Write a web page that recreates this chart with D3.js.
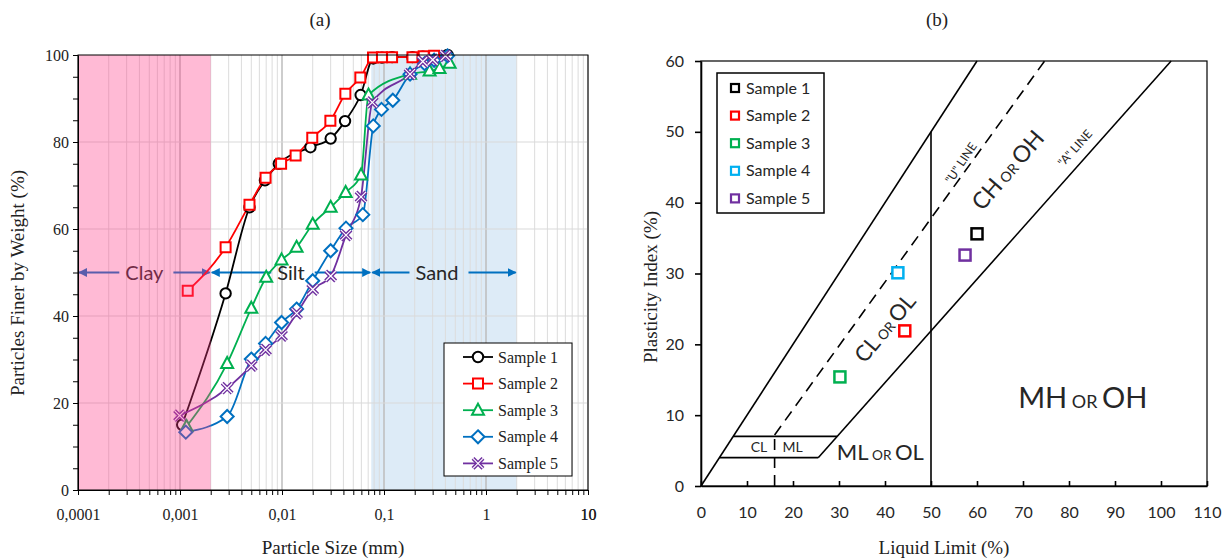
<!DOCTYPE html>
<meta charset="utf-8">
<style>
body { margin: 0; background: #fff; }
.serif { font-family: "Liberation Serif", "Times New Roman", serif; fill: #222; }
.sans { font-family: Lato, "Open Sans", sans-serif; fill: #262626; }
</style>
<svg id="chart" width="1226" height="558"></svg>
<script src="https://d3js.org/d3.v7.min.js"></script>
<script>

// ---------- data: (a) grain size distribution ----------
var sampleNames = ["Sample 1", "Sample 2", "Sample 3", "Sample 4", "Sample 5"];

// particle size (mm) and percent finer for each sample
var sizeS1 = [0.00105, 0.0028, 0.0048, 0.0068, 0.0093, 0.019, 0.030, 0.0415, 0.059, 0.0785, 0.0955, 0.12, 0.19, 0.24, 0.30, 0.42];
var pctS1  = [15, 45.2, 65, 71.2, 75, 78.8, 80.8, 84.8, 90.8, 99.2, 99.4, 99.5, 99.5, 99.6, 99.7, 100];

var sizeS2 = [0.00119, 0.0028, 0.0048, 0.0069, 0.0098, 0.0136, 0.0198, 0.0298, 0.0418, 0.0586, 0.078, 0.0955, 0.12, 0.19, 0.245, 0.31];
var pctS2  = [45.8, 55.8, 65.6, 71.8, 75, 76.9, 81, 84.9, 91.1, 94.8, 99.4, 99.5, 99.5, 99.5, 99.7, 99.8];

var sizeS3 = [0.00116, 0.0029, 0.005, 0.0070, 0.0099, 0.0139, 0.020, 0.030, 0.0421, 0.0595, 0.0705, 0.18, 0.28, 0.35, 0.44];
var pctS3  = [14.6, 29.1, 41.8, 48.9, 52.9, 55.8, 61.1, 65, 68.4, 72.4, 90.8, 95.6, 96.3, 96.9, 98.1];

var sizeS4 = [0.00114, 0.0029, 0.005, 0.0069, 0.0099, 0.0139, 0.020, 0.030, 0.0424, 0.062, 0.0785, 0.0945, 0.122, 0.18, 0.25, 0.31, 0.42];
var pctS4  = [13.3, 16.9, 30.1, 33.7, 38.5, 41.6, 48.1, 55, 60.2, 63.3, 83.7, 87.5, 89.6, 95.6, 98, 98.8, 99.8];

var sizeS5 = [0.00099, 0.0029, 0.005, 0.0069, 0.0099, 0.0139, 0.020, 0.030, 0.0424, 0.0595, 0.0768, 0.18, 0.24, 0.30, 0.40];
var pctS5  = [17.1, 23.4, 28.6, 32.2, 35.5, 40.6, 46.1, 49.2, 58.6, 67.4, 89.1, 95.6, 98.5, 98.9, 99.8];

// soil fraction limits (mm)
var zoneNames  = ["Clay", "Silt", "Sand"];
var zoneBounds = [[0.0001, 0.002], [0.002, 0.075], [0.075, 2]];
var zoneArrowLevel = 50;

var sizeTicks = [0.0001, 0.001, 0.01, 0.1, 1, 10];
var sizeTickLabels = ["0,0001", "0,001", "0,01", "0,1", "1", "10"];

// ---------- data: (b) plasticity chart ----------
var liquidLimit     = [60, 44.3, 30.2, 42.8, 57.4];
var plasticityIndex = [35.6, 21.9, 15.4, 30.1, 32.6];

// chart lines in (LL, PI)
var upperLine = [[0, 0], [60, 60]];
var aLine     = [[25.48, 4], [102.2, 60]];          // PI = 0.73 (LL - 20)
var uLine     = [[16, 7.2], [74.7, 60]];            // PI = 0.9 (LL - 8)
var uStem     = [[16, 0], [16, 7.2]];
var llFifty   = [[50, 0], [50, 50]];
var clmlLow   = [[4, 4], [25.48, 4]];
var clmlHigh  = [[7, 7], [29.6, 7]];

// ---------- styles ----------
var gsColors  = ["#000000", "#FF0000", "#00B050", "#0070C0", "#7030A0"];
var gsMarkers = ["circle", "square", "triangle", "diamond", "x"];
var plColors  = ["#000000", "#FF0000", "#00B050", "#00B0F0", "#7030A0"];

var svg = d3.select("#chart");

// =============== (a) ===============
var xA = d3.scaleLog().domain([0.0001, 10]).range([78, 588]);
var yA = d3.scaleLinear().domain([0, 100]).range([490, 55]);

var gA = svg.append("g");

// sand background
gA.append("rect")
  .attr("x", xA(zoneBounds[2][0])).attr("y", yA(100))
  .attr("width", xA(zoneBounds[2][1]) - xA(zoneBounds[2][0]))
  .attr("height", yA(0) - yA(100))
  .attr("fill", "#DDEBF7");

// grid
var minorTicks = xA.ticks();
gA.selectAll(".vgrid").data(minorTicks).enter().append("line")
  .attr("x1", d => xA(d)).attr("x2", d => xA(d))
  .attr("y1", yA(0)).attr("y2", yA(100))
  .attr("stroke", d => sizeTicks.some(t => Math.abs(t - d) / t < 1e-6) ? "#BDBDBD" : "#DCDCDC")
  .attr("stroke-width", d => sizeTicks.some(t => Math.abs(t - d) / t < 1e-6) ? 1.5 : 1);
gA.selectAll(".hgrid").data([20, 40, 60, 80]).enter().append("line")
  .attr("x1", xA.range()[0]).attr("x2", xA.range()[1])
  .attr("y1", d => yA(d)).attr("y2", d => yA(d))
  .attr("stroke", "#D9D9D9");

// zone arrows and labels
var defs = svg.append("defs");
defs.append("marker").attr("id", "ah")
  .attr("viewBox", "0 0 10 10").attr("refX", 9).attr("refY", 5)
  .attr("markerWidth", 4.5).attr("markerHeight", 4.5)
  .attr("orient", "auto-start-reverse")
  .append("path").attr("d", "M0,0L10,5L0,10Z").attr("fill", "#0070C0");

var yArrow = yA(zoneArrowLevel);
zoneNames.forEach(function(name, i) {
  var x0 = xA(zoneBounds[i][0]), x1 = xA(zoneBounds[i][1]);
  var cx = (x0 + x1) / 2;
  if (i === 2) cx -= 7;
  var t = gA.append("text").attr("class", "sans")
    .attr("x", cx).attr("y", yArrow).attr("dy", "0.35em")
    .attr("text-anchor", "middle").style("font-size", "20px")
    .attr("fill", "#333").text(name);
  var w = t.node().getComputedTextLength();
  gA.append("line").attr("x1", cx - w / 2 - 6).attr("x2", x0 + 1)
    .attr("y1", yArrow).attr("y2", yArrow)
    .attr("stroke", "#0070C0").attr("stroke-width", 2).attr("marker-end", "url(#ah)");
  gA.append("line").attr("x1", cx + w / 2 + 10).attr("x2", x1 - 1)
    .attr("y1", yArrow).attr("y2", yArrow)
    .attr("stroke", "#0070C0").attr("stroke-width", 2).attr("marker-end", "url(#ah)");
});

// series
var gsSeries = [[sizeS1, pctS1], [sizeS2, pctS2], [sizeS3, pctS3], [sizeS4, pctS4], [sizeS5, pctS5]]
  .map(function(s, i) {
    return { name: sampleNames[i], pts: s[0].map((v, j) => [v, s[1][j]]) };
  });

var lineA = d3.line().x(d => xA(d[0])).y(d => yA(d[1])).curve(d3.curveMonotoneX);

function markerPath(type) {
  if (type === "circle") return d3.symbol(d3.symbolCircle, Math.PI * 27)();
  if (type === "square") return "M-5,-5h10v10h-10Z";
  if (type === "triangle") return "M0,-6.5L6,4.5L-6,4.5Z";
  if (type === "diamond") return "M0,-6.5L6.5,0L0,6.5L-6.5,0Z";
  return "M-5,-5L5,5M-5,5L5,-5";
}

function drawMarker(g, i, x, y) {
  var type = gsMarkers[i];
  if (type === "x") {
    g.append("path").attr("d", markerPath(type)).attr("transform", "translate(" + x + "," + y + ")")
      .attr("stroke", gsColors[i]).attr("stroke-width", 4).attr("fill", "none");
    g.append("path").attr("d", markerPath(type)).attr("transform", "translate(" + x + "," + y + ")")
      .attr("stroke", "#fff").attr("stroke-width", 1.2).attr("fill", "none");
  } else {
    g.append("path").attr("d", markerPath(type)).attr("transform", "translate(" + x + "," + y + ")")
      .attr("stroke", gsColors[i]).attr("stroke-width", 2).attr("fill", "#fff");
  }
}

gsSeries.forEach(function(s, i) {
  gA.append("path").datum(s.pts).attr("d", lineA)
    .attr("fill", "none").attr("stroke", gsColors[i]).attr("stroke-width", 1.8);
});
gsSeries.forEach(function(s, i) {
  s.pts.forEach(function(p) { drawMarker(gA, i, xA(p[0]), yA(p[1])); });
});

// clay overlay (translucent pink on top)
gA.append("rect")
  .attr("x", xA(zoneBounds[0][0])).attr("y", yA(100))
  .attr("width", xA(zoneBounds[0][1]) - xA(zoneBounds[0][0]))
  .attr("height", yA(0) - yA(100))
  .attr("fill", "#FF3A87").attr("fill-opacity", 0.35);

// frame
gA.append("rect").attr("x", xA.range()[0]).attr("y", yA(100))
  .attr("width", xA.range()[1] - xA.range()[0]).attr("height", yA(0) - yA(100))
  .attr("fill", "none").attr("stroke", "#000").attr("stroke-width", 1);

// axes
var axA_y = gA.append("g").attr("transform", "translate(" + xA.range()[0] + ",0)")
  .call(d3.axisLeft(yA).tickValues(d3.range(0, 101, 5)).tickSizeInner(5).tickSizeOuter(0).tickPadding(4)
    .tickFormat(d => d % 20 === 0 ? d : ""));
var axA_x = gA.append("g").attr("transform", "translate(0," + yA(0) + ")")
  .call(d3.axisBottom(xA).tickValues(minorTicks.concat([10])).tickSizeInner(5).tickSizeOuter(0).tickPadding(14)
    .tickFormat(function(d) {
      var k = sizeTicks.findIndex(t => Math.abs(t - d) / t < 1e-6);
      return k >= 0 ? sizeTickLabels[k] : "";
    }));
[axA_y, axA_x].forEach(function(ax) {
  ax.selectAll("text").attr("class", "serif").style("font-size", "16px").attr("fill", "#222");
  ax.selectAll("line, path").attr("stroke", "#000");
});

// legend (a)
var legA = gA.append("g");
legA.append("rect").attr("x", 444).attr("y", 343).attr("width", 128).attr("height", 133)
  .attr("fill", "#fff").attr("stroke", "#000").attr("stroke-width", 1);
sampleNames.forEach(function(name, i) {
  var y = 357 + i * 26.6;
  legA.append("line").attr("x1", 463).attr("x2", 493).attr("y1", y).attr("y2", y)
    .attr("stroke", gsColors[i]).attr("stroke-width", 1.8);
  drawMarker(legA, i, 478, y);
  legA.append("text").attr("class", "serif").attr("x", 498).attr("y", y).attr("dy", "0.35em")
    .style("font-size", "16px").text(name);
});

// titles (a)
svg.append("text").attr("class", "serif").attr("x", 320).attr("y", 26)
  .attr("text-anchor", "middle").style("font-size", "19px").text("(a)");
svg.append("text").attr("class", "serif").attr("x", 333).attr("y", 554)
  .attr("text-anchor", "middle").style("font-size", "19px").text("Particle Size (mm)");
svg.append("text").attr("class", "serif")
  .attr("transform", "translate(24,283) rotate(-90)")
  .attr("text-anchor", "middle").style("font-size", "19px").text("Particles Finer by Weight (%)");

// =============== (b) ===============
var xB = d3.scaleLinear().domain([0, 110]).range([701, 1207]);
var yB = d3.scaleLinear().domain([0, 60]).range([486, 61]);
var gB = svg.append("g");

var lineB = d3.line().x(d => xB(d[0])).y(d => yB(d[1]));
[upperLine, aLine, llFifty, clmlLow, clmlHigh].forEach(function(l) {
  gB.append("path").datum(l).attr("d", lineB).attr("fill", "none")
    .attr("stroke", "#000").attr("stroke-width", 1.6);
});
[uLine, uStem].forEach(function(l) {
  gB.append("path").datum(l).attr("d", lineB).attr("fill", "none")
    .attr("stroke", "#000").attr("stroke-width", 1.6).attr("stroke-dasharray", "11,7");
});

// frame + axes
gB.append("rect").attr("x", xB(0)).attr("y", yB(60))
  .attr("width", xB(110) - xB(0)).attr("height", yB(0) - yB(60))
  .attr("fill", "none").attr("stroke", "#000").attr("stroke-width", 1.2);
var axB_y = gB.append("g").attr("transform", "translate(" + xB(0) + ",0)")
  .call(d3.axisLeft(yB).tickValues(d3.range(0, 61, 10)).tickSizeInner(6).tickSizeOuter(0).tickPadding(11));
var axB_x = gB.append("g").attr("transform", "translate(0," + yB(0) + ")")
  .call(d3.axisBottom(xB).tickValues(d3.range(0, 111, 10)).tickSizeInner(-5).tickSizeOuter(0).tickPadding(21));
[axB_y, axB_x].forEach(function(ax) {
  ax.selectAll("text").attr("class", "sans").style("font-size", "16px").attr("fill", "#262626");
  ax.selectAll("line, path").attr("stroke", "#000").attr("stroke-width", 1.6);
});

// region labels
function smallCaps(x, y, angle, big, parts) {
  var t = gB.append("text").attr("class", "sans")
    .attr("transform", "translate(" + x + "," + y + ") rotate(" + angle + ")")
    .attr("text-anchor", "middle").attr("dy", "0.35em")
    .style("font-size", big + "px").attr("fill", "#111");
  parts.forEach(function(p, k) {
    t.append("tspan").style("font-size", (k === 1 ? big * 0.62 : big) + "px")
      .text(k === 1 ? " " + p + " " : p);
  });
}
smallCaps(xB(40), yB(22.3), -50, 22, ["CL", "OR", "OL"]);
smallCaps(xB(66.7), yB(44.6), -49, 23, ["CH", "OR", "OH"]);
smallCaps(xB(83), yB(12.4), 0, 29, ["MH", "OR", "OH"]);
smallCaps(xB(39), yB(4.8), 0, 22, ["ML", "OR", "OL"]);

gB.append("text").attr("class", "sans").attr("x", xB(12.6)).attr("y", yB(5.5)).attr("dy", "0.35em")
  .attr("text-anchor", "middle").style("font-size", "14px").attr("fill", "#111").text("CL");
gB.append("text").attr("class", "sans").attr("x", xB(19.9)).attr("y", yB(5.5)).attr("dy", "0.35em")
  .attr("text-anchor", "middle").style("font-size", "14px").attr("fill", "#111").text("ML");
gB.append("text").attr("class", "sans")
  .attr("transform", "translate(" + xB(56.5) + "," + yB(45.6) + ") rotate(-56)")
  .attr("text-anchor", "middle").attr("dy", "0.35em").style("font-size", "12px").attr("fill", "#111")
  .text("\"U\" LINE");
gB.append("text").attr("class", "sans")
  .attr("transform", "translate(" + xB(81.3) + "," + yB(47.7) + ") rotate(-48)")
  .attr("text-anchor", "middle").attr("dy", "0.35em").style("font-size", "12px").attr("fill", "#111")
  .text("\"A\" LINE");

// samples
gB.selectAll(".pt").data(liquidLimit).enter().append("rect")
  .attr("x", (d, i) => xB(d) - 5.5).attr("y", (d, i) => yB(plasticityIndex[i]) - 5.5)
  .attr("width", 11).attr("height", 11)
  .attr("fill", "#fff").attr("stroke", (d, i) => plColors[i]).attr("stroke-width", 2.5);

// legend (b)
var legB = gB.append("g");
legB.append("rect").attr("x", 717).attr("y", 73).attr("width", 107).attr("height", 140)
  .attr("fill", "#fff").attr("stroke", "#000").attr("stroke-width", 1.5);
sampleNames.forEach(function(name, i) {
  var y = 88 + i * 27.6;
  legB.append("rect").attr("x", 731).attr("y", y - 4).attr("width", 8).attr("height", 8)
    .attr("fill", "#fff").attr("stroke", plColors[i]).attr("stroke-width", 2.2);
  legB.append("text").attr("class", "sans").attr("x", 746).attr("y", y).attr("dy", "0.35em")
    .style("font-size", "16px").text(name);
});

// titles (b)
svg.append("text").attr("class", "serif").attr("x", 937).attr("y", 26)
  .attr("text-anchor", "middle").style("font-size", "19px").text("(b)");
svg.append("text").attr("class", "serif").attr("x", 944).attr("y", 554)
  .attr("text-anchor", "middle").style("font-size", "19px").text("Liquid Limit (%)");
svg.append("text").attr("class", "serif")
  .attr("transform", "translate(657,287) rotate(-90)")
  .attr("text-anchor", "middle").style("font-size", "19px").text("Plasticity Index (%)");

</script>
